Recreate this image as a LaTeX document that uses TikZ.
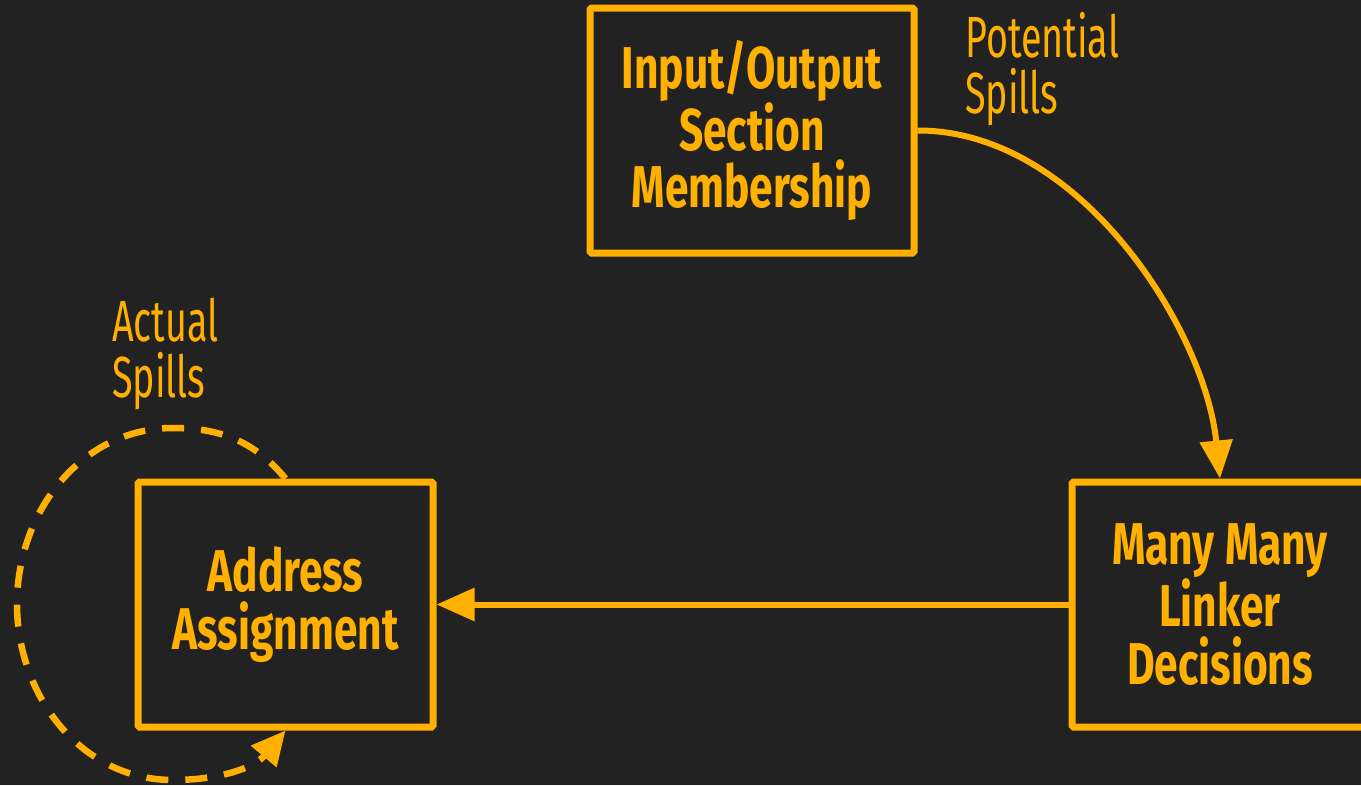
\documentclass[tikz,border=0pt]{standalone}
\usepackage{fontspec}
\usetikzlibrary{arrows.meta}
\newfontfamily\boxfont[FakeStretch=0.72]{Fira Sans}
\newfontfamily\labfont[FakeStretch=0.65]{Fira Sans}
\definecolor{bg}{RGB}{34,34,34}
\definecolor{amber}{RGB}{255,176,0}
\tikzset{
  stage/.style={draw=amber, line width=7pt, rounded corners=1.5pt, inner sep=0pt,
    align=center, text=amber, font=\boxfont\bfseries\fontsize{59}{57.5}\selectfont},
  spill/.style={text=amber, align=left, inner sep=0pt, anchor=base west,
    font=\labfont\fontsize{58}{56}\selectfont},
  flow/.style={draw=amber, line width=6pt, -{Triangle[length=38pt,width=32pt]}},
  loopflow/.style={draw=amber, line width=6.5pt, dash pattern=on 22pt off 17pt,
    -{Triangle[length=34pt,width=32pt]}}
}
\begin{document}
\begin{tikzpicture}[x=1pt,y=-1pt]
\fill[bg] (0,0) rectangle (1361,785);
\useasboundingbox (0,0) rectangle (1361,785);
\node[stage, minimum width=324pt, minimum height=245pt] (io) at (752,130.5)
  {Input/Output\\Section\\Membership};
\node[stage, minimum width=295pt, minimum height=245pt] (addr) at (285.5,604.5)
  {Address\\Assignment};
\node[stage, minimum width=296pt, minimum height=245pt] (many) at (1220,604.5)
  {Many Many\\Linker\\Decisions};
\node[spill] (pot) at (965,113) {Potential\\Spills};
\node[spill] (act) at (112,397) {Actual\\Spills};
\draw[flow] (io.east) .. controls (1080,130) and (1205,330) .. (many.north);
\draw[flow] (many.west) -- (addr.east);
\coordinate (lt) at (173,428);
\coordinate (ll) at (17,604);
\coordinate (lb) at (173,780);
\draw[loopflow] (addr.north) to[out=130,in=0] (lt) to[out=180,in=90] (ll)
  to[out=-90,in=180] (lb) to[out=0,in=230] (addr.south);
\end{tikzpicture}
\end{document}
